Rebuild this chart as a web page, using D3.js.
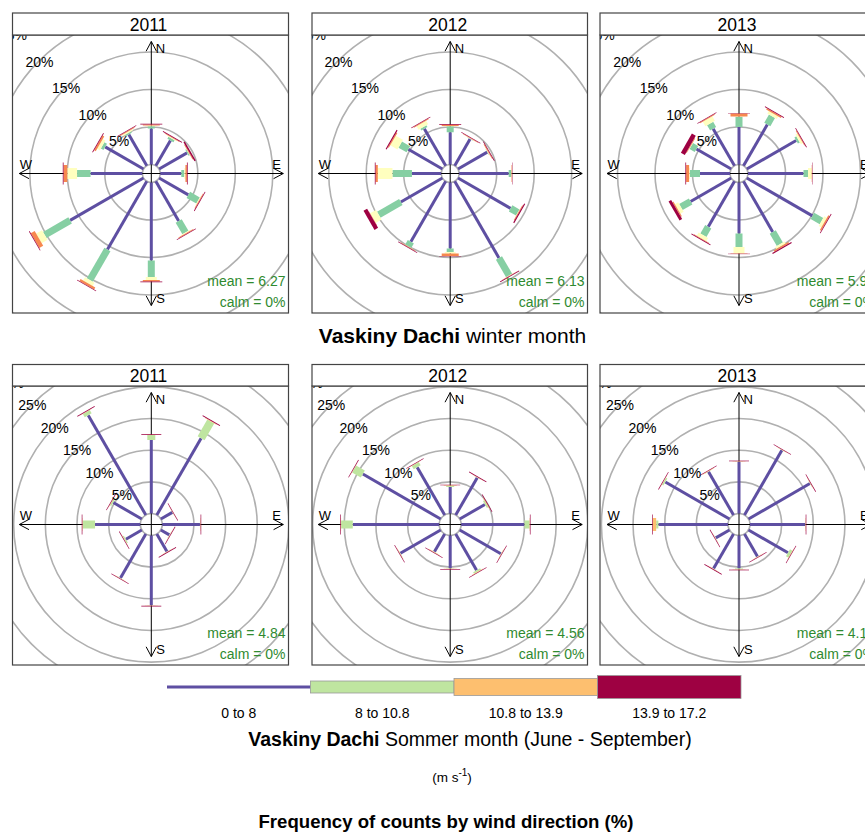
<!DOCTYPE html>
<html>
<head>
<meta charset="utf-8">
<script src="https://cdn.jsdelivr.net/npm/d3@7"></script>
<style>
  body { margin: 0; background: #fff; }
  text { font-family: "Liberation Sans", Arial, Helvetica, sans-serif; }
</style>
</head>
<body>
<svg id="chart" width="865" height="832"></svg>
<script>
// wind directions (deg, clockwise from N)
const directions = [0, 30, 60, 90, 120, 150, 180, 210, 240, 270, 300, 330];
const years = ["2011", "2012", "2013"];

// cumulative frequency (%) at the top of each speed class, one row per direction
// winter: 5 speed classes
const winter2011 = [
  [4.8, 5.1, 5.2, 5.35, 5.45],
  [3.9, 4.2, 4.3, 4.4, 4.5],
  [4.3, 4.45, 4.5, 4.6, 4.8],
  [2.8, 3.2, 3.35, 3.55, 3.65],
  [4.5, 6.0, 6.1, 6.2, 6.3],
  [6.1, 7.9, 8.0, 8.1, 8.2],
  [10.4, 12.6, 13.0, 13.2, 13.3],
  [10.5, 15.2, 15.7, 16.0, 16.1],
  [11.3, 15.2, 16.1, 16.7, 16.8],
  [6.9, 8.7, 10.0, 10.5, 10.6],
  [5.9, 6.3, 6.7, 6.95, 7.05],
  [4.8, 5.0, 5.2, 5.3, 5.4]
];
const winter2012 = [
  [4.3, 5.1, 5.15, 5.3, 5.4],
  [4.1, 4.15, 4.2, 4.25, 4.35],
  [4.5, 4.55, 4.6, 4.7, 4.8],
  [6.6, 6.95, 6.98, 7.05, 7.1],
  [8.1, 9.2, 9.25, 9.35, 9.5],
  [11.8, 14.5, 14.55, 14.6, 14.7],
  [8.8, 9.25, 9.45, 9.8, 9.85],
  [9.3, 10.0, 10.05, 10.1, 10.2],
  [6.4, 9.8, 10.7, 10.75, 11.3],
  [3.9, 6.5, 8.45, 8.75, 8.85],
  [5.25, 6.5, 7.6, 7.75, 7.9],
  [5.7, 5.95, 6.5, 6.6, 6.7]
];
const winter2013 = [
  [5.0, 6.35, 6.4, 6.8, 6.85],
  [6.35, 7.6, 8.0, 8.2, 8.3],
  [7.6, 7.9, 8.2, 8.3, 8.4],
  [7.4, 8.0, 8.5, 8.55, 8.6],
  [10.1, 11.5, 11.9, 12.1, 12.2],
  [7.8, 9.7, 10.0, 10.2, 10.35],
  [6.8, 8.6, 9.45, 9.5, 9.55],
  [7.0, 8.3, 8.8, 8.9, 9.0],
  [6.25, 7.75, 8.25, 8.4, 8.8],
  [4.0, 5.35, 5.45, 5.85, 5.95],
  [5.35, 6.15, 6.2, 6.3, 6.9],
  [5.7, 6.5, 7.2, 7.3, 7.4]
];
// summer: 4 speed classes
const summer2011 = [
  [11.6, 12.4, 12.45, 12.55],
  [14.0, 17.05, 17.15, 17.3],
  [2.1, 2.12, 2.15, 2.25],
  [5.95, 6.0, 6.05, 6.15],
  [1.55, 1.6, 1.65, 1.75],
  [3.2, 3.25, 3.3, 3.4],
  [11.0, 11.05, 11.1, 11.2],
  [8.0, 8.05, 8.1, 8.2],
  [2.9, 3.1, 3.15, 3.25],
  [7.15, 9.1, 9.15, 9.25],
  [5.2, 5.45, 5.5, 5.6],
  [18.2, 18.8, 18.85, 18.95]
];
const summer2012 = [
  [4.2, 4.4, 4.45, 4.55],
  [6.8, 6.85, 6.9, 7.0],
  [4.6, 4.85, 4.95, 5.05],
  [10.0, 10.8, 10.85, 10.95],
  [7.5, 7.55, 7.6, 7.7],
  [6.6, 6.9, 6.95, 7.05],
  [5.2, 5.25, 5.3, 5.4],
  [3.25, 3.3, 3.35, 3.45],
  [7.35, 7.4, 7.45, 7.55],
  [13.65, 15.5, 15.55, 15.65],
  [14.2, 15.8, 15.85, 15.95],
  [8.7, 9.3, 9.35, 9.45]
];
const summer2013 = [
  [8.15, 8.2, 8.25, 8.35],
  [11.8, 11.85, 11.9, 12.0],
  [11.2, 11.25, 11.3, 11.4],
  [8.7, 8.75, 8.8, 8.9],
  [7.2, 7.65, 7.7, 7.8],
  [4.1, 4.15, 4.2, 4.3],
  [5.2, 5.35, 5.4, 5.5],
  [6.3, 6.35, 6.4, 6.5],
  [2.5, 2.55, 2.6, 2.7],
  [11.0, 11.35, 11.9, 12.0],
  [11.7, 11.95, 12.0, 12.1],
  [7.9, 7.95, 8.0, 8.1]
];

const winterMeans = ["6.27", "6.13", "5.96"];
const summerMeans = ["4.84", "4.56", "4.15"];
const calmValues = ["0%", "0%", "0%"];
const winterRings = [0, 5, 10, 15, 20, 25];
const summerRings = [0, 5, 10, 15, 20, 25, 30];
const summerLabels = ["0 to 8", "8 to 10.8", "10.8 to 13.9", "13.9 to 17.2"];

const winterColours = ["#5e4fa2", "#86cfa3", "#ffffbf", "#f7884f", "#9e0142"];
const summerColours = ["#5e4fa2", "#bfe5a0", "#fdbf6f", "#9e0142"];

// layout
const colX0 = [12.5, 312, 600], colX1 = [288.5, 587.5, 878], colCx = [151.3, 450.2, 739];
const rowStrip = [13, 364.5], rowTop = [35, 386], rowBottom = [313, 665], rowCy = [173.5, 524.5];
const axisLen = 132;

const svg = d3.select("#chart");

const rowDefs = [
  {
    sets: [winter2011, winter2012, winter2013], means: winterMeans, rings: winterRings,
    colours: winterColours, widths: [3, 7, 11, 17, 22],
    r: d3.scaleLinear().domain([0, 5]).range([9, 46.5])
  },
  {
    sets: [summer2011, summer2012, summer2013], means: summerMeans, rings: summerRings,
    colours: summerColours, widths: [3, 8, 13, 20],
    r: d3.scaleLinear().domain([0, 5]).range([11, 42.65])
  }
];

const line = d3.line();

rowDefs.forEach((rd, ri) => {
  rd.sets.forEach((data, ci) => {
    const x0 = colX0[ci], x1 = colX1[ci], cx = colCx[ci], cy = rowCy[ri];
    const top = rowTop[ri], bottom = rowBottom[ri];
    const clipId = "clip" + ri + ci;
    svg.append("clipPath").attr("id", clipId)
      .append("rect").attr("x", x0).attr("y", top).attr("width", x1 - x0).attr("height", bottom - top);

    const g = svg.append("g").attr("clip-path", "url(#" + clipId + ")");

    // rings
    g.selectAll("circle.ring").data(rd.rings).enter().append("circle")
      .attr("class", "ring")
      .attr("cx", cx).attr("cy", cy)
      .attr("r", d => rd.r(d))
      .attr("fill", "none").attr("stroke", "#b0b0b0").attr("stroke-width", 1.6);

    // axes with arrowheads
    const ax = g.append("g").attr("stroke", "#000").attr("stroke-width", 1).attr("fill", "none");
    ax.append("line").attr("x1", cx - axisLen).attr("x2", cx + axisLen).attr("y1", cy).attr("y2", cy);
    ax.append("line").attr("x1", cx).attr("x2", cx).attr("y1", cy - axisLen).attr("y2", cy + axisLen);
    const ah = 11, aa = 28 * Math.PI / 180;
    [[1, 0], [-1, 0], [0, 1], [0, -1]].forEach(([ux, uy]) => {
      const tx = cx + ux * axisLen, ty = cy + uy * axisLen;
      [aa, -aa].forEach(a => {
        const bx = -ux * Math.cos(a) + uy * Math.sin(a);
        const by = -uy * Math.cos(a) - ux * Math.sin(a);
        ax.append("line").attr("x1", tx).attr("y1", ty)
          .attr("x2", tx + bx * ah).attr("y2", ty + by * ah);
      });
    });

    // paddles
    directions.forEach((wd, di) => {
      const th = wd * Math.PI / 180;
      const s = Math.sin(th), c = Math.cos(th);
      const cum = data[di];
      cum.forEach((v, j) => {
        const r1 = rd.r(j === 0 ? 0 : cum[j - 1]), r2 = rd.r(v);
        if (r2 <= r1) return;
        const h = rd.widths[j] / 2;
        const pts = [
          [cx + r1 * s - h * c, cy - r1 * c - h * s],
          [cx + r1 * s + h * c, cy - r1 * c + h * s],
          [cx + r2 * s + h * c, cy - r2 * c + h * s],
          [cx + r2 * s - h * c, cy - r2 * c - h * s]
        ];
        g.append("path").attr("d", line(pts) + "Z").attr("fill", rd.colours[j]);
      });
    });

    // ring labels at 315 deg
    const k = Math.SQRT1_2;
    g.selectAll("text.rl").data(rd.rings.filter(d => d > 0)).enter().append("text")
      .attr("class", "rl")
      .attr("x", d => cx - (rd.r(d) - 1) * k)
      .attr("y", d => cy - (rd.r(d) - 1) * k)
      .attr("dy", "0.35em").attr("text-anchor", "middle")
      .attr("font-size", 14).text(d => d + "%");

    // compass letters
    const o = 0.07 * axisLen, f = 0.95 * axisLen;
    [["N", cx + o, cy - f], ["S", cx + o, cy + f], ["E", cx + f, cy - o], ["W", cx - f, cy - o]]
      .forEach(([t, x, y]) => {
        g.append("text").attr("x", x).attr("y", y).attr("dy", "0.35em")
          .attr("text-anchor", "middle").attr("font-size", 13).text(t);
      });

    // mean / calm
    g.append("text").attr("x", x1 - 3).attr("y", bottom - 27).attr("text-anchor", "end")
      .attr("font-size", 14).attr("fill", "#2f8a2f").text("mean = " + rd.means[ci]);
    g.append("text").attr("x", x1 - 3).attr("y", bottom - 6).attr("text-anchor", "end")
      .attr("font-size", 14).attr("fill", "#2f8a2f").text("calm = " + calmValues[ci]);

    // frame and strip
    svg.append("rect").attr("x", x0).attr("y", top).attr("width", x1 - x0).attr("height", bottom - top)
      .attr("fill", "none").attr("stroke", "#444").attr("stroke-width", 1.2);
    svg.append("rect").attr("x", x0).attr("y", rowStrip[ri]).attr("width", x1 - x0).attr("height", top - rowStrip[ri])
      .attr("fill", "#fff").attr("stroke", "#444").attr("stroke-width", 1.2);
    svg.append("text").attr("x", (x0 + x1) / 2 - 2).attr("y", top - 4)
      .attr("text-anchor", "middle").attr("font-size", 17.5).text(years[ci]);
  });
});

// winter title
const t1 = svg.append("text").attr("x", 452.5).attr("y", 343).attr("text-anchor", "middle").attr("font-size", 21);
t1.append("tspan").attr("font-weight", "bold").text("Vaskiny Dachi");
t1.append("tspan").text(" winter month");

// summer legend
const legX = d3.scaleBand().domain(summerLabels).range([167, 741]);
const legH = [3, 12, 17, 23];
const legY = 687;
svg.selectAll("rect.leg").data(summerLabels).enter().append("rect")
  .attr("class", "leg")
  .attr("x", d => legX(d)).attr("width", legX.bandwidth())
  .attr("y", (d, i) => legY - legH[i] / 2).attr("height", (d, i) => legH[i])
  .attr("fill", (d, i) => summerColours[i])
  .attr("stroke", (d, i) => i === 0 ? "none" : "#999").attr("stroke-width", 0.8);
svg.selectAll("text.leg").data(summerLabels).enter().append("text")
  .attr("class", "leg")
  .attr("x", d => legX(d) + legX.bandwidth() / 2).attr("y", 718)
  .attr("text-anchor", "middle").attr("font-size", 14).text(d => d);

const t2 = svg.append("text").attr("x", 470).attr("y", 746).attr("text-anchor", "middle").attr("font-size", 19.5);
t2.append("tspan").attr("font-weight", "bold").text("Vaskiny Dachi");
t2.append("tspan").text(" Sommer month (June - September)");

const u = svg.append("text").attr("x", 452).attr("y", 782).attr("text-anchor", "middle").attr("font-size", 13.5);
u.append("tspan").text("(m s");
u.append("tspan").attr("dy", -6).attr("font-size", 10).text("-1");
u.append("tspan").attr("dy", 6).text(")");

svg.append("text").attr("x", 446).attr("y", 828).attr("text-anchor", "middle")
  .attr("font-size", 18.6).attr("font-weight", "bold").text("Frequency of counts by wind direction (%)");
</script>
</body>
</html>
